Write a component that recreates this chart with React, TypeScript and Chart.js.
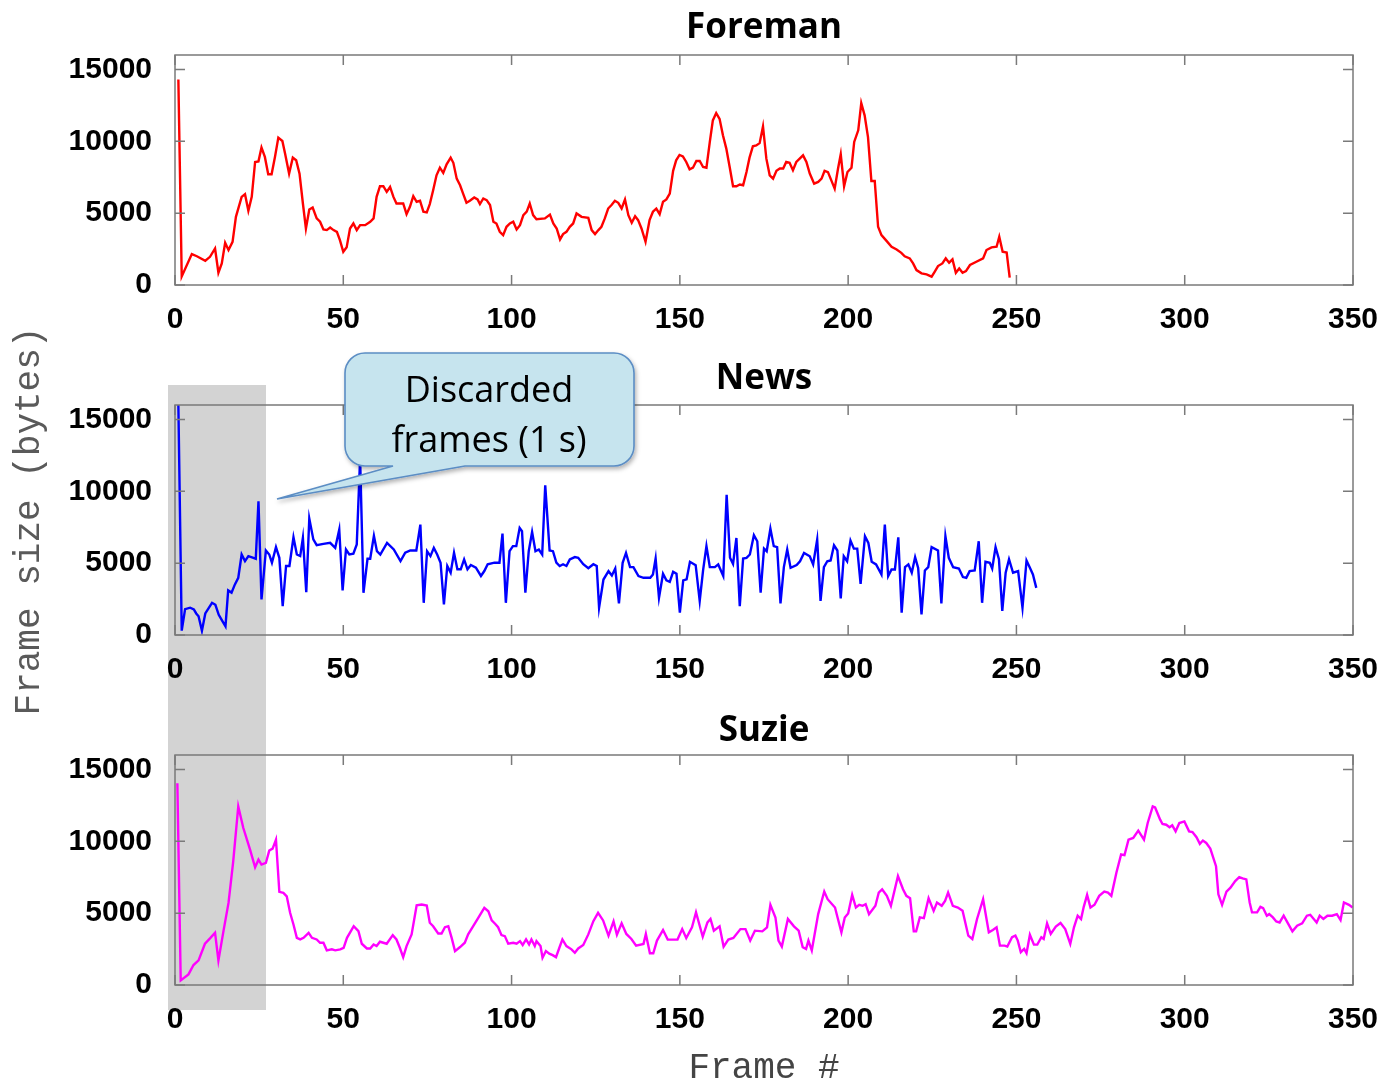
import React, { useEffect, useRef } from "react";
import { Chart, registerables } from "chart.js";

Chart.register(...registerables);

// ---------- axis ticks ----------
const frameTicks = [0, 50, 100, 150, 200, 250, 300, 350];
const sizeTicks = [0, 5000, 10000, 15000];
const FRAME_MAX = 350;
const SIZE_MAX = 16000;

// ---------- Foreman ----------
const foremanFrames = [
  1, 2, 5, 6.5, 9, 10.4, 11.9, 12.9, 13.9, 14.9, 15.9, 17.1, 18.1, 19.8, 20.8, 21.8, 22.8, 23.8, 24.8, 25.7,
  26.7, 27.7, 28.7, 29.7, 30.7, 31.9, 32.7, 33.9, 35, 36, 37, 38, 38.9, 39.9, 40.9, 42.1, 43.1, 44.1, 45.1, 46.1,
  47.1, 48.1, 49, 50, 51, 52, 53, 54, 55, 56.5, 58, 59, 59.9, 60.9, 61.9, 62.9, 63.9, 64.9, 65.8, 67.8,
  68.8, 69.8, 70.8, 71.8, 72.8, 73.8, 74.8, 75.7, 76.7, 77.7, 78.7, 79.7, 80.7, 81.9, 82.7, 83.7, 84.7, 85.6, 86.6, 87.6,
  88.9, 89.9, 90.6, 91.6, 92.6, 93.6, 94.6, 95.5, 96.5, 97.5, 98.5, 99.5, 100.5, 101.5, 102.5, 103.5, 104.5, 105.4, 106.4, 107.4,
  109.9, 111.4, 112.4, 113.4, 114.4, 115.3, 116.3, 117.3, 118.3, 119.3, 120.8, 122.8, 123.8, 124.8, 125.8, 126.7, 127.7, 128.7, 129.7, 130.7,
  131.7, 132.7, 133.7, 134.7, 135.7, 136.7, 137.6, 138.6, 139.8, 141, 142, 143, 144, 145, 146, 147, 148, 148.9, 149.9, 150.9,
  151.9, 152.9, 153.9, 154.9, 155.9, 156.9, 157.9, 158.9, 159.8, 160.8, 161.8, 162.8, 163.8, 164.8, 165.8, 166.8, 167.8, 168.8, 169.8, 170.7,
  171.7, 172.7, 173.7, 174.7, 175.7, 176.7, 177.7, 178.7, 179.7, 180.7, 181.6, 182.6, 183.6, 184.6, 185.6, 186.6, 187.6, 188.6, 189.9, 191.1,
  192.1, 193, 194, 195, 196, 197, 197.8, 198.8, 199.8, 201, 201.8, 203, 203.9, 204.9, 205.9, 206.9, 207.9, 208.9, 209.9, 211.4,
  212.9, 214.4, 215.8, 216.8, 218.3, 219.3, 220.3, 221.8, 223.3, 224.8, 225.7, 226.7, 228, 229, 230, 231, 232, 233, 234, 235,
  236.2, 238.1, 240.1, 241.1, 242.6, 244.1, 244.9, 245.9, 247.1, 248,
];
const foremanSizes = [
  14300, 600, 2150, 2000, 1690, 1960, 2540, 850, 1500, 2940, 2430, 3000, 4740, 6130, 6320, 5160, 6130, 8560, 8600, 9560,
  8910, 7700, 7700, 8900, 10250, 10020, 9140, 7750, 8860, 8675, 7750, 5670, 3930, 5250, 5390, 4630, 4400, 3865, 3820, 4000,
  3820, 3700, 3120, 2310, 2620, 3930, 4280, 3820, 4165, 4165, 4400, 4630, 6130, 6870, 6870, 6480, 6820, 6130, 5670, 5670,
  4930, 5440, 6180, 5790, 5860, 5100, 5050, 5630, 6590, 7630, 8160, 7800, 8400, 8860, 8500, 7400, 6940, 6360, 5720, 5860,
  6090, 5950, 5630, 6020, 5900, 5560, 4400, 4280, 3700, 3470, 4050, 4280, 4400, 3865, 4165, 4860, 5100, 5670, 4860, 4580,
  4630, 4900, 4280, 3930, 3170, 3540, 3700, 4050, 4280, 4980, 4740, 4670, 3820, 3540, 3820, 4050, 4630, 5320, 5560, 5860,
  5720, 5320, 5950, 4860, 4330, 4790, 4510, 3930, 3010, 4510, 5100, 5320, 4930, 5790, 5950, 6360, 7940, 8675, 9050, 8950,
  8560, 8050, 8160, 8630, 8630, 8210, 8160, 9950, 11450, 11960, 11560, 10410, 9490, 8210, 6870, 6870, 6990, 6940, 7860, 8860,
  9650, 9710, 9870, 11035, 8790, 7630, 7400, 7940, 8100, 8100, 8560, 8500, 7990, 8560, 8790, 9020, 8560, 7750, 7050, 7170,
  7400, 7940, 7850, 7280, 6700, 8100, 9090, 6870, 7860, 8160, 9950, 10760, 12650, 11800, 10290, 7240, 7240, 4050, 3470, 3070,
  2660, 2470, 2240, 2000, 1850, 1500, 1040, 810, 740, 580, 920, 1315, 1500, 1850, 1550, 1780, 850, 1150, 850, 970,
  1390, 1620, 1850, 2430, 2620, 2660, 3350, 2310, 2260, 520,
];

// ---------- News ----------
const newsFrames = [
  1, 2, 3, 4.5, 5.6, 6.3, 7, 8, 9, 11, 12, 13, 14, 15, 15.8, 16.8, 17.8, 18.8, 19.8, 20.8,
  21.8, 23.3, 24, 24.8, 25.7, 27, 28, 28.8, 30, 31, 32, 33, 34, 35.2, 36.2, 37.2, 38, 39, 39.9, 41.1,
  42.1, 44.1, 46.1, 47.6, 48.8, 49.8, 50.8, 51.8, 53, 54, 55, 56, 57.2, 58, 59.1, 60, 61, 63, 65, 67,
  68.4, 69.9, 71.7, 72.9, 73.9, 74.9, 75.9, 76.9, 77.9, 78.9, 79.9, 80.9, 81.9, 82.9, 83.9, 84.9, 85.9, 86.9, 87.9, 89.4,
  90.9, 91.9, 92.9, 94.9, 96.4, 97.3, 98.3, 99.4, 100.4, 101.4, 102.4, 103.1, 104.1, 105.1, 106.1, 107.1, 108.1, 109.1, 110, 111.3,
  112.3, 113.3, 114.3, 115.3, 116.3, 117.3, 118.8, 119.8, 121.3, 122.8, 124.3, 125.3, 126, 127.3, 128.8, 129.8, 130.8, 131.9, 133, 134,
  135.2, 136.2, 137.7, 139.2, 141.2, 142, 142.8, 143.8, 145, 146, 147, 148, 149, 150, 151, 152, 153, 154.7, 155.9, 156.9,
  157.9, 158.9, 160.4, 161.4, 162.9, 163.9, 164.9, 165.8, 166.8, 167.8, 168.8, 169.8, 170.8, 172, 173, 174, 175, 175.8, 176.9, 177.9,
  178.9, 179.9, 180.9, 181.9, 182.9, 184.7, 185.7, 186.9, 188.6, 189.6, 190.8, 191.8, 192.8, 193.8, 194.8, 195.8, 196.8, 197.8, 198.7, 199.7,
  200.7, 201.7, 202.7, 203.7, 205, 206, 207, 208.3, 209.9, 210.9, 211.9, 212.9, 213.9, 214.9, 215.9, 216.9, 217.9, 218.9, 219.9, 220.8,
  221.8, 222.8, 223.8, 224.8, 226.7, 227.7, 228.9, 229.9, 231.2, 232.9, 234.1, 235.1, 236.1, 237.6, 238.8, 239.8, 240.8, 242.1, 242.8, 243.8,
  244.8, 245.8, 246.8, 247.8, 249, 250.5, 251.8, 253, 254, 254.9, 255.9,
];
const newsSizes = [
  16000, 300, 1800, 1900, 1780, 1500, 1300, 300, 1500, 2240, 2100, 1400, 1000, 600, 3100, 2950, 3520, 3980, 5600, 5140,
  5490, 5370, 5300, 9300, 2480, 5880, 5600, 5030, 6110, 5370, 2010, 4800, 4800, 6800, 5600, 5490, 6760, 2980, 8100, 6650,
  6250, 6340, 6410, 6060, 7330, 3100, 5950, 5600, 5650, 6300, 12300, 2940, 5300, 5300, 6900, 5830, 5600, 6410, 5950, 5140,
  5720, 5880, 5880, 7680, 2240, 5830, 5490, 6060, 5600, 5030, 2130, 4800, 4340, 5720, 4570, 4570, 5260, 4570, 4870, 4690,
  4110, 4450, 4920, 5030, 5030, 7050, 2240, 5830, 6180, 6180, 7450, 7220, 2940, 5830, 7170, 5830, 5950, 5600, 10410, 5880,
  5830, 5030, 4800, 4920, 4800, 5260, 5420, 5370, 4920, 4640, 4920, 4800, 1900, 3860, 4440, 4140, 4620, 2200, 5020, 5710,
  4720, 4720, 4100, 3980, 3980, 4210, 5320, 2590, 4260, 3800, 3700, 4400, 4260, 1550, 3800, 3870, 5090, 4860, 2370, 4490,
  6180, 4720, 4720, 4910, 4100, 9760, 5370, 4950, 6750, 2010, 5320, 5370, 5600, 6940, 6520, 2940, 6010, 5830, 7400, 6180,
  6110, 2200, 4720, 5950, 4670, 4860, 5130, 5710, 5480, 4910, 6640, 2370, 4720, 5130, 5180, 6240, 5880, 2550, 5480, 5130,
  6570, 6010, 6010, 3560, 6870, 6410, 5090, 4910, 4210, 7680, 4100, 4560, 4560, 6800, 1550, 4720, 4910, 4330, 5410, 4670,
  1440, 4490, 4720, 6110, 5880, 2200, 6870, 5370, 4720, 4620, 4030, 3980, 4440, 4490, 6520, 2240, 5090, 5020, 4620, 6110,
  5270, 1670, 4330, 5270, 4330, 4440, 1900, 5180, 4670, 4210, 3280,
];

// ---------- Suzie ----------
const suzieFrames = [
  0.7, 1.7, 4, 5.5, 7, 8.9, 10.4, 11.9, 12.9, 14.4, 15.9, 17.3, 18.8, 20.3, 22.3, 23.8, 24.8, 25.7, 27, 28,
  29, 30, 31, 32.2, 33.2, 34.2, 35.2, 36.2, 37.2, 38.2, 39.7, 40.7, 42.1, 43.1, 44.1, 45.1, 46.6, 47.6, 49.1, 50.1,
  51.1, 53.1, 54.5, 55.5, 57, 58, 59, 59.9, 60.9, 62.9, 64.7, 65.8, 66.8, 67.8, 68.8, 70.3, 71.8, 73.3, 74.8, 75.7,
  76.7, 78.2, 79.2, 80.2, 81.2, 82.2, 83.2, 84.7, 86.1, 87.1, 88.6, 90.1, 91.9, 93.1, 94.1, 95.1, 96, 97, 98, 99,
  100.5, 101.5, 102.5, 103.3, 104.3, 105.2, 105.9, 106.9, 107.4, 108.6, 109.2, 110.2, 111.2, 112.2, 113.2, 114.2, 115.1, 116.3, 117.8, 118.8,
  119.8, 121.3, 122.8, 124.3, 125.7, 127.2, 128.8, 130.3, 131.3, 132.7, 134.1, 135.6, 137, 139.2, 139.9, 141.1, 142.1, 143.2, 145, 146.4,
  149.3, 150.7, 151.9, 153.6, 154.8, 156.8, 158.2, 159.1, 160.1, 161.8, 163, 164.4, 165.9, 168, 169.5, 170.9, 172.3, 174.5, 175.9, 176.9,
  178.4, 179.3, 180.3, 182.1, 183.9, 185.3, 186.5, 187.5, 188.2, 189.2, 191.1, 192.9, 193.9, 196.1, 196.8, 198, 199, 200, 201.2, 202.3,
  203.3, 204.3, 205.2, 206.2, 208.1, 209.1, 210.1, 211.5, 212.7, 214.8, 216.3, 217.3, 218.4, 219.5, 220.2, 221.3, 222.5, 223.9, 225.4, 226.4,
  227.8, 228.8, 229.7, 231.1, 232.6, 234, 235.7, 236.9, 238.3, 240.1, 241.8, 243, 244.1, 245.1, 246.5, 247.3, 248.7, 249.7, 250.4, 251.3,
  252.3, 253, 254, 255.2, 256.2, 257.4, 258.1, 259.1, 260.2, 261.7, 263.1, 264.5, 266, 267.1, 268.2, 269.2, 270, 271, 272, 273.2,
  274.6, 276.1, 277.2, 278.2, 279.7, 281.1, 282.1, 283.3, 284.7, 286.2, 287.9, 289, 290.5, 291.2, 292.7, 293.4, 294.5, 295.5, 296.3, 297.3,
  298.4, 299.9, 301.3, 302.3, 303.5, 304.5, 305.4, 306.4, 307.6, 309.3, 310, 311.1, 312.4, 313.6, 315, 316.2, 317.2, 318.3, 319.3, 320,
  321.5, 322.5, 323.3, 324.4, 325.1, 326.2, 327.2, 328.2, 329.4, 330.8, 332, 333.4, 334.9, 336.3, 337.3, 339.2, 340.1, 341.2, 342.4, 343.8,
  345.2, 346.3, 347.3, 348.8, 349.9,
];
const suzieSizes = [
  14040, 320, 740, 1390, 1710, 2870, 3240, 3630, 1710, 3750, 5710, 8600, 12420, 10920, 9420, 8190, 8720, 8380, 8490, 9350,
  9490, 10110, 6480, 6410, 6170, 5020, 4210, 3280, 3170, 3280, 3630, 3280, 3170, 2940, 2940, 2410, 2480, 2410, 2480, 2590,
  3280, 4090, 3750, 2870, 2540, 2540, 2820, 2710, 3010, 2870, 3470, 3170, 2590, 1940, 2710, 3520, 5550, 5600, 5530, 4330,
  4090, 3580, 3580, 4020, 4090, 3280, 2360, 2640, 2940, 3520, 4090, 4670, 5370, 5130, 4490, 4260, 4020, 3470, 3400, 2870,
  2940, 2870, 3050, 2780, 3170, 2820, 3170, 2710, 3050, 2710, 1900, 2360, 2180, 2080, 1940, 2590, 3170, 2710, 2480, 2240,
  2540, 2780, 3520, 4440, 5020, 4490, 3430, 4420, 3500, 4290, 3550, 3200, 2740, 2860, 3550, 2210, 2210, 3090, 3830, 3160,
  3160, 3890, 3270, 4010, 5050, 3360, 4350, 4590, 3780, 4080, 2670, 3160, 3270, 3890, 3890, 3090, 3780, 3730, 4010, 5580,
  4700, 3090, 2670, 4590, 4080, 3780, 2630, 2510, 3090, 2400, 4930, 6500, 5970, 5390, 4750, 3660, 4700, 4980, 6270, 5390,
  5580, 5510, 5620, 4930, 5510, 6430, 6660, 6200, 5510, 7580, 6660, 6200, 6040, 3730, 3730, 4700, 4650, 6040, 5160, 5740,
  5510, 5850, 6430, 5510, 5390, 5160, 3430, 3200, 4590, 5970, 3660, 3830, 4010, 2740, 2740, 2670, 3320, 3430, 3090, 2280,
  2510, 2210, 3500, 2810, 2810, 3320, 3200, 4290, 3550, 4060, 4310, 3890, 2860, 4010, 4820, 4590, 5440, 6270, 5390, 5580,
  6200, 6500, 6430, 6200, 7810, 9080, 9030, 10110, 10230, 10740, 10110, 11270, 12420, 12350, 11500, 11200, 11150, 10970, 11110, 10690,
  11270, 11380, 10690, 10640, 10280, 9820, 10050, 9880, 9490, 8270, 6310, 5580, 6500, 6770, 7230, 7510, 7420, 7350, 5740, 5050,
  5050, 5440, 5350, 4820, 4930, 4700, 4420, 4350, 4820, 4240, 3730, 4120, 4290, 4820, 4880, 4350, 4820, 4590, 4820, 4820,
  4930, 4520, 5740, 5580, 5390,
];

// ---------- layout constants ----------
const PLOT_LEFT = 175;
const PLOT_BOTTOM = 285; // within each canvas
const tickFont = { family: "'Liberation Sans', Arial, sans-serif", size: 30, weight: "bold" as const, lineHeight: 1.2 };

const framePlugin = {
  id: "gnuplotFrame",
  afterDraw(chart: any) {
    const { ctx, chartArea, scales } = chart;
    const { left, right, top, bottom } = chartArea;
    const xs = scales.x;
    const ys = scales.y;
    ctx.save();
    ctx.strokeStyle = "#7a7a7a";
    ctx.lineWidth = 1.5;
    ctx.beginPath();
    frameTicks.forEach((v) => {
      const px = xs.getPixelForValue(v);
      ctx.moveTo(px, bottom);
      ctx.lineTo(px, bottom - 10);
      ctx.moveTo(px, top);
      ctx.lineTo(px, top + 10);
    });
    sizeTicks.forEach((v) => {
      const py = ys.getPixelForValue(v);
      ctx.moveTo(left, py);
      ctx.lineTo(left + 10, py);
      ctx.moveTo(right, py);
      ctx.lineTo(right - 10, py);
    });
    ctx.stroke();
    ctx.strokeRect(left, top, right - left, bottom - top);
    ctx.restore();
  },
};

type PlotProps = {
  title: string;
  frames: number[];
  sizes: number[];
  color: string;
  top: number;
  height: number;
  titlePadTop: number;
  xTitle?: string;
};

function FramePlot({ title, frames, sizes, color, top, height, titlePadTop, xTitle }: PlotProps) {
  const ref = useRef<HTMLCanvasElement | null>(null);
  useEffect(() => {
    if (!ref.current) return;
    const chart = new Chart(ref.current, {
      type: "line",
      data: {
        datasets: [
          {
            data: frames.map((f, i) => ({ x: f, y: sizes[i] })),
            borderColor: color,
            backgroundColor: color,
            borderWidth: 2.4,
            pointRadius: 0,
            tension: 0,
            fill: false,
          },
        ],
      },
      options: {
        responsive: false,
        animation: false,
        events: [],
        layout: { padding: { left: 0, right: 30, top: 0, bottom: 0 } },
        plugins: {
          legend: { display: false },
          tooltip: { enabled: false },
          title: {
            display: true,
            text: title,
            fullSize: false,
            color: "#000",
            font: { family: "'Open Sans', sans-serif", size: 35, weight: "bold", lineHeight: 1.2 },
            padding: { top: titlePadTop, bottom: 13 - titlePadTop },
          },
        },
        scales: {
          x: {
            type: "linear",
            min: 0,
            max: FRAME_MAX,
            grid: { display: false, drawTicks: false },
            border: { display: false },
            afterBuildTicks: (s: any) => {
              s.ticks = frameTicks.map((value) => ({ value }));
            },
            afterFit: (s: any) => {
              s.height = height - PLOT_BOTTOM;
              s.paddingLeft = 0;
              s.paddingRight = 0;
            },
            ticks: {
              autoSkip: false,
              maxRotation: 0,
              padding: 17,
              color: "#000",
              font: tickFont,
              callback: (v: any) => String(v),
            },
            title: xTitle
              ? {
                  display: true,
                  text: xTitle,
                  color: "#444",
                  font: { family: "'Liberation Mono', 'DejaVu Sans Mono', monospace", size: 36, lineHeight: 1.2 },
                  padding: { top: 0, bottom: 10 },
                }
              : { display: false },
          },
          y: {
            type: "linear",
            min: 0,
            max: SIZE_MAX,
            grid: { display: false, drawTicks: false },
            border: { display: false },
            afterBuildTicks: (s: any) => {
              s.ticks = sizeTicks.map((value) => ({ value }));
            },
            afterFit: (s: any) => {
              s.width = PLOT_LEFT;
            },
            ticks: {
              padding: 23,
              color: "#000",
              font: tickFont,
              callback: (v: any) => String(v),
            },
          },
        },
      } as any,
      plugins: [framePlugin],
    });
    return () => chart.destroy();
  }, []);
  return (
    <canvas
      ref={ref}
      width={1383}
      height={height}
      style={{ position: "absolute", left: 0, top, width: 1383, height }}
    />
  );
}

function Callout() {
  const path =
    "M 365 353 H 614 A 20 20 0 0 1 634 373 V 446 A 20 20 0 0 1 614 466 H 465 L 277 499 L 393 466 H 365 A 20 20 0 0 1 345 446 V 373 A 20 20 0 0 1 365 353 Z";
  return (
    <svg
      width={1383}
      height={1080}
      style={{ position: "absolute", left: 0, top: 0, pointerEvents: "none" }}
    >
      <defs>
        <filter id="sh" x="-10%" y="-10%" width="130%" height="140%">
          <feDropShadow dx="1.5" dy="2.5" stdDeviation="2" floodColor="#000" floodOpacity="0.3" />
        </filter>
      </defs>
      <path d={path} fill="#c6e4ee" stroke="#5b8dc4" strokeWidth={1.6} filter="url(#sh)" />
      <text
        x={489}
        y={388}
        textAnchor="middle"
        dominantBaseline="central"
        fontFamily="'Open Sans', sans-serif"
        fontSize={36}
        fill="#000"
      >
        Discarded
      </text>
      <text
        x={489}
        y={438}
        textAnchor="middle"
        dominantBaseline="central"
        fontFamily="'Open Sans', sans-serif"
        fontSize={36}
        fill="#000"
      >
        frames (1 s)
      </text>
    </svg>
  );
}

export default function App() {
  return (
    <div
      style={{
        position: "fixed",
        left: 0,
        top: 0,
        width: 1383,
        height: 1080,
        overflow: "hidden",
        background: "#fff",
      }}
    >
      <div
        style={{
          position: "absolute",
          left: 168,
          top: 385,
          width: 98,
          height: 625,
          background: "#d3d3d3",
        }}
      />
      <FramePlot title="Foreman" frames={foremanFrames} sizes={foremanSizes} color="#ff0000" top={0} height={350} titlePadTop={7} />
      <FramePlot title="News" frames={newsFrames} sizes={newsSizes} color="#0000ff" top={350} height={350} titlePadTop={8} />
      <FramePlot
        title="Suzie"
        frames={suzieFrames}
        sizes={suzieSizes}
        color="#ff00ff"
        top={700}
        height={400}
        titlePadTop={10}
        xTitle="Frame #"
      />
      <div
        style={{
          position: "absolute",
          left: 30,
          top: 521,
          transform: "translate(-50%, -50%) rotate(-90deg)",
          whiteSpace: "nowrap",
          fontFamily: "'Liberation Mono', 'DejaVu Sans Mono', monospace",
          fontSize: 36,
          color: "#5a5a5a",
          lineHeight: 1,
        }}
      >
        Frame size (bytes)
      </div>
      <Callout />
    </div>
  );
}
